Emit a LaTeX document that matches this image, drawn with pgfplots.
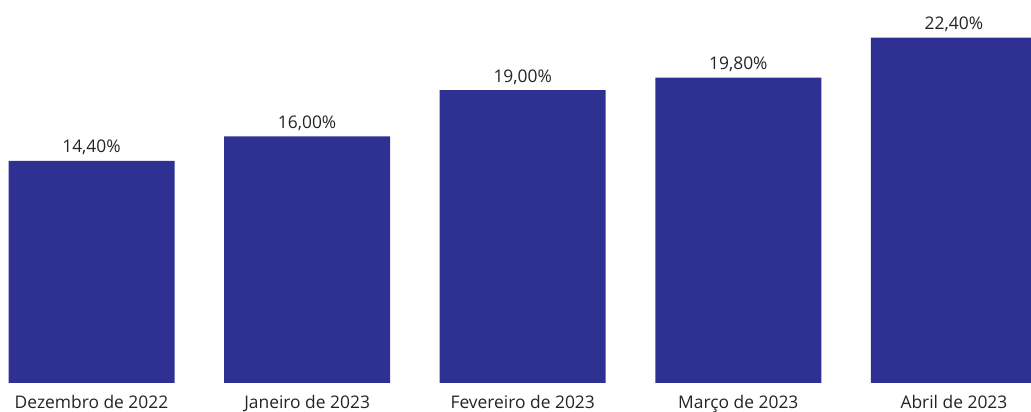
\documentclass[border=0pt]{standalone}
\usepackage{fontspec}
\setmainfont{Open Sans}
\usepackage{pgfplots}
\pgfplotsset{compat=1.18}
\definecolor{barblue}{HTML}{2E3192}
\definecolor{txt}{HTML}{252423}
\begin{document}
\begin{tikzpicture}
\useasboundingbox (0,0) rectangle (1031pt,412pt);
\clip (0,0) rectangle (1031pt,412pt);
\begin{axis}[
    at={(0pt,29pt)}, anchor=south west,
    scale only axis,
    width=1031pt, height=383pt,
    xmin=-0.4244, xmax=4.3576,
    ymin=0, ymax=24.84,
    ybar, bar width=166pt,
    axis line style={draw=none},
    tick style={draw=none},
    ytick=\empty,
    xtick=data,
    xticklabels={Dezembro de 2022, Janeiro de 2023, Fevereiro de 2023, Março de 2023, Abril de 2023},
    xticklabel style={anchor=base, yshift=-21pt, inner sep=0pt, font=\fontsize{17.4}{19}\selectfont, text=txt},
    /pgf/number format/assume math mode=true,
    nodes near coords={\pgfmathprintnumber[fixed,fixed zerofill,precision=2,use comma]{\pgfplotspointmeta}\%},
    every node near coord/.append style={anchor=base, yshift=8pt, inner sep=0pt, font=\fontsize{17.4}{19}\selectfont, text=txt},
    clip=false,
]
\addplot[fill=barblue, draw=none] coordinates {(0,14.4) (1,16.0) (2,19.0) (3,19.8) (4,22.4)};
\end{axis}
\end{tikzpicture}
\end{document}
